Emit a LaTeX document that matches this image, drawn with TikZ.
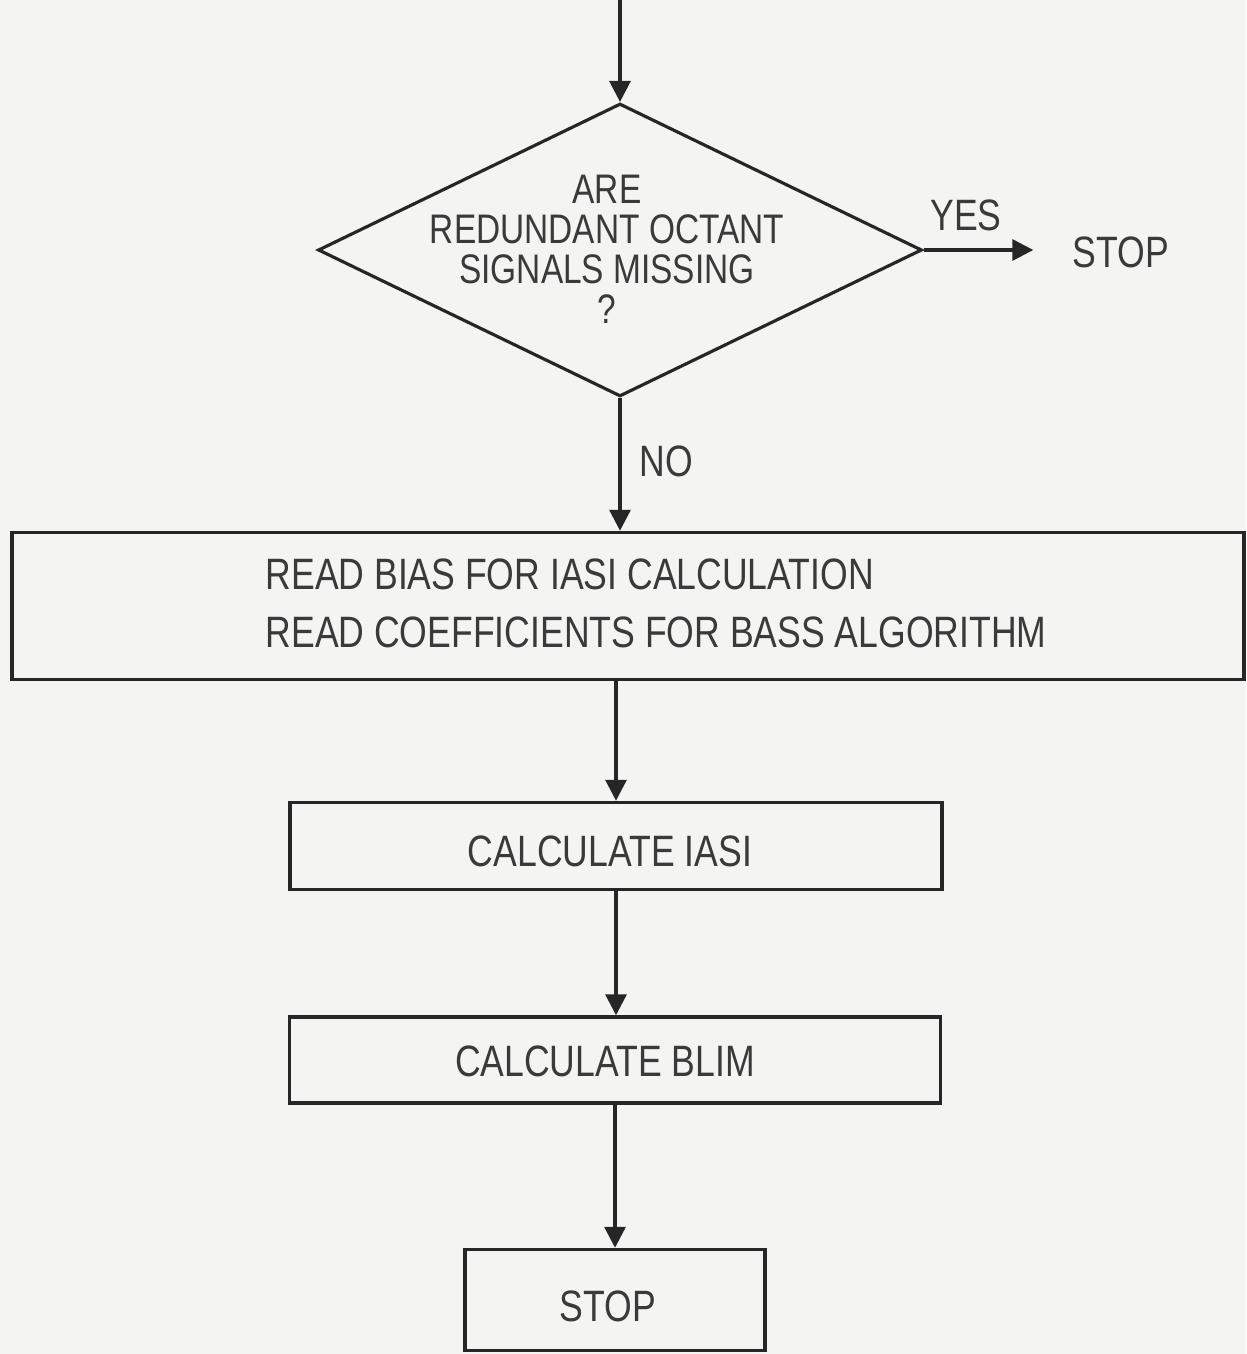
\documentclass[tikz,border=0pt]{standalone}
\usepackage{fontspec}
\setmainfont{Liberation Sans}[FakeStretch=0.81]
\usetikzlibrary{shapes.geometric,arrows.meta}
\definecolor{bg}{HTML}{F4F4F3}
\definecolor{ink}{HTML}{262626}
\definecolor{txt}{HTML}{3A3A3A}
\begin{document}
\begin{tikzpicture}[x=0.02cm,y=-0.02cm,
  line width=1.8pt, draw=ink,
  box/.style={draw=ink, rectangle, inner sep=0pt, line width=2pt},
  lbl/.style={text=txt, font=\fontsize{25}{33}\selectfont, inner sep=0pt, align=left},
  qtxt/.style={text=txt, font=\fontsize{23.5}{22.8}\selectfont, inner sep=0pt, align=center},
  arr/.style={draw=ink, line width=1.8pt, -{Triangle[length=0.42cm,width=0.42cm]}}
]
\fill[bg] (0,0) rectangle (1246,1354);
\useasboundingbox (0,0) rectangle (1246,1354);

\node[draw=ink, diamond, inner sep=0pt, minimum width=12.08cm, minimum height=5.86cm] (dia) at (620,250) {};
\coordinate (in) at (620,-5);
\node[qtxt] (q) at (607,249) {ARE\\REDUNDANT OCTANT\\SIGNALS MISSING\\?};

\node[lbl] (stop1) at (1121,252) {STOP};
\node[lbl] (yes) at (966,215) {YES};
\node[lbl] (no) at (666,461) {NO};

\node[box, minimum width=24.64cm, minimum height=2.94cm] (read) at (628,606) {};
\node[lbl] (readtxt) at (656,603) {READ BIAS FOR IASI CALCULATION\\READ COEFFICIENTS FOR BASS ALGORITHM};

\node[box, minimum width=13.04cm, minimum height=1.74cm] (iasi) at (616,846) {};
\node[lbl] (iasitxt) at (610,851) {CALCULATE IASI};

\node[box, minimum width=13.02cm, minimum height=1.72cm] (blim) at (615,1060) {};
\node[lbl] (blimtxt) at (605,1061) {CALCULATE BLIM};

\node[box, minimum width=6cm, minimum height=2.02cm] (stopbox) at (615,1300) {};
\node[lbl] (stoptxt) at (608,1306) {STOP};

\draw[arr] (in) -- (dia.north);
\draw[arr, shorten >=0.76cm] (dia.east) -- (stop1.west |- dia.east);
\draw[arr] (dia.south) -- (dia.south |- read.north);
\draw[arr] (iasi.north |- read.south) -- (iasi.north);
\draw[arr] (iasi.south) -- (blim.north -| iasi.south);
\draw[arr] (blim.south) -- (stopbox.north -| blim.south);
\end{tikzpicture}
\end{document}
